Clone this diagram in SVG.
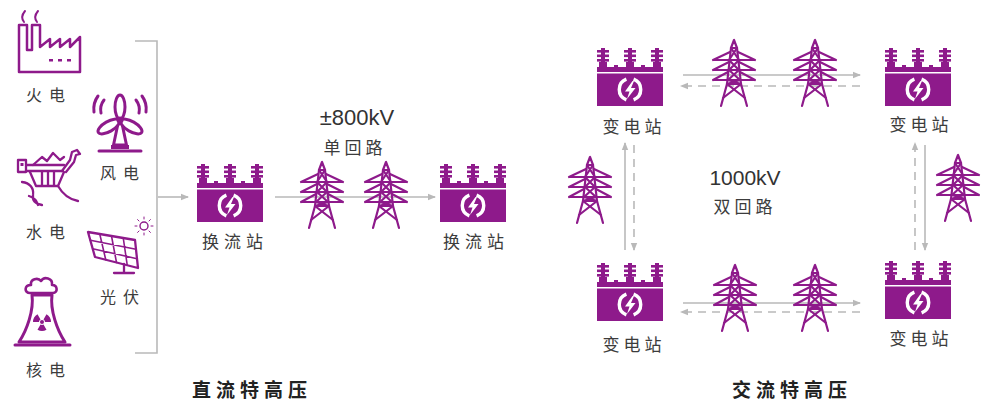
<svg xmlns="http://www.w3.org/2000/svg" width="982" height="406" viewBox="0 0 982 406">
  <style>
    .p { fill: #8e1a8b; }
    .ps { fill: none; stroke: #8e1a8b; stroke-linejoin: round; stroke-linecap: round; }
    .w { fill: none; stroke: #ffffff; stroke-width: 3.4; stroke-linecap: butt; }
    .ln { fill: none; stroke: #b9b9b9; stroke-width: 1.6; }
    .dash { stroke-dasharray: 8 6; }
    .lbl { font-family: "Noto Sans CJK SC", sans-serif; font-size: 16px; fill: #3c3c3c; text-anchor: middle; }
    .cap { font-family: "Noto Sans CJK SC", sans-serif; font-size: 19px; font-weight: bold; fill: #222222; text-anchor: middle; letter-spacing: 5px; }
    .kv { font-family: "Liberation Sans", Arial, sans-serif; font-size: 21px; fill: #333333; text-anchor: middle; }
  </style>
  <defs>
    <marker id="ah" viewBox="0 0 8 8" markerWidth="8" markerHeight="8" refX="7" refY="4" orient="auto" markerUnits="userSpaceOnUse">
      <path d="M0 0.8 L8 4 L0 7.2 Z" fill="#b9b9b9"/>
    </marker>
    <!-- substation / converter station: 66 x 58 -->
    <g id="station">
      <g class="p">
        <rect x="4" y="0" width="4" height="18"/>
        <rect x="0" y="2" width="12" height="2.6"/>
        <rect x="0" y="6.5" width="12" height="2.6"/>
        <rect x="0" y="11" width="12" height="2.6"/>
        <rect x="2" y="14" width="8" height="10"/>
        <rect x="31" y="0" width="4" height="18"/>
        <rect x="27" y="2" width="12" height="2.6"/>
        <rect x="27" y="6.5" width="12" height="2.6"/>
        <rect x="27" y="11" width="12" height="2.6"/>
        <rect x="29" y="14" width="8" height="10"/>
        <rect x="58" y="0" width="4" height="18"/>
        <rect x="54" y="2" width="12" height="2.6"/>
        <rect x="54" y="6.5" width="12" height="2.6"/>
        <rect x="54" y="11" width="12" height="2.6"/>
        <rect x="56" y="14" width="8" height="10"/>
        <rect x="0" y="19" width="66" height="5"/>
        <rect x="17" y="17" width="4" height="3"/>
        <rect x="44" y="17" width="4" height="3"/>
        <rect x="0" y="25.5" width="66" height="32.5"/>
      </g>
      <path class="w" d="M29.4 31.2 A11 11 0 0 0 29.4 51.8 M36.6 31.2 A11 11 0 0 1 36.6 51.8"/>
      <polygon points="35.5,33 28,43.5 32.5,43.5 30,51 38.5,40 34,40 37,33" fill="#ffffff"/>
    </g>
    <!-- lattice transmission tower: centred on x=0, 66 high -->
    <g id="tower" class="ps" stroke-width="2.2">
      <path d="M0 0 L-3 8 L3 8 Z"/>
      <path d="M-3 8 L-7 44 L-13 66 M3 8 L7 44 L13 66"/>
      <path d="M-21 20 L-4 12 M21 20 L4 12 M-21 20 H21"/>
      <path d="M-21 30 L-5 22 M21 30 L5 22 M-21 30 H21"/>
      <path d="M-21 40 L-6 32 M21 40 L6 32 M-21 40 H21"/>
      <path d="M-3 8 L5 20 L-5 30 L6 40 L-7 44 M3 8 L-5 20 L5 30 L-6 40 L7 44"/>
      <path d="M-7 44 H7 M-7 44 L11 58 M7 44 L-11 58"/>
    </g>
  </defs>

  <!-- connectors -->
  <g id="connectors">
    <path class="ln" d="M135 41 H157 V353 H135"/>
    <path class="ln" d="M158 197 H188" marker-end="url(#ah)"/>
    <path class="ln" d="M275 197 H435" marker-end="url(#ah)"/>
    <path class="ln" d="M683 75 H860" marker-end="url(#ah)"/>
    <path class="ln dash" d="M860 86 H681" marker-end="url(#ah)"/>
    <path class="ln" d="M683 303 H860" marker-end="url(#ah)"/>
    <path class="ln dash" d="M860 312 H681" marker-end="url(#ah)"/>
    <path class="ln" d="M625 250 V143" marker-end="url(#ah)"/>
    <path class="ln dash" d="M634 145 V250" marker-end="url(#ah)"/>
    <path class="ln dash" d="M915 250 V143" marker-end="url(#ah)"/>
    <path class="ln" d="M925 145 V250" marker-end="url(#ah)"/>
  </g>

  <!-- generation sources -->
  <g id="thermal">
    <path class="ps" stroke-width="2.5" d="M19 72 V25 H27 V50 H32 V25 H40 V47 L50 39 V47 L60 39 V47 L70 39 V47 L80 37 V72 Z"/>
    <path class="ps" stroke-width="2" d="M24 22 Q20 17 25 11 M37 22 Q33 17 38 11"/>
    <rect class="p" x="49" y="59" width="4" height="2.5"/>
    <rect class="p" x="58" y="59" width="4" height="2.5"/>
    <rect class="p" x="67" y="59" width="4" height="2.5"/>
    <text class="lbl" x="49" y="101" style="letter-spacing:7px">火电</text>
  </g>
  <g id="wind">
    <path class="ps" stroke-width="3" d="M104 100 A16 16 0 0 0 101 113 M98 96 A22 22 0 0 0 94 112 M136 100 A16 16 0 0 1 139 113 M142 96 A22 22 0 0 1 146 112"/>
    <ellipse class="ps" stroke-width="3" cx="120" cy="107" rx="12" ry="5" transform="rotate(-90 120 107)"/>
    <ellipse class="ps" stroke-width="3" cx="108.7" cy="126.5" rx="12" ry="5" transform="rotate(150 108.7 126.5)"/>
    <ellipse class="ps" stroke-width="3" cx="131.3" cy="126.5" rx="12" ry="5" transform="rotate(30 131.3 126.5)"/>
    <circle class="p" cx="120" cy="120" r="3.5"/>
    <path class="ps" stroke-width="3" d="M117.5 126 L113.5 145 H126.5 L122.5 126"/>
    <rect class="p" x="111" y="145" width="18" height="4"/>
    <path class="ps" stroke-width="3" d="M99 151 H141"/>
    <text class="lbl" x="123" y="179" style="letter-spacing:7px">风电</text>
  </g>
  <g id="hydro">
    <rect class="ps" stroke-width="2.3" x="18" y="160" width="8" height="12"/>
    <rect class="p" x="20.5" y="163" width="3" height="3"/>
    <path class="ps" stroke-width="2.3" d="M26 165 H64 M26 171 H63"/>
    <path class="ps" stroke-width="2.3" d="M33 165 L42 157 L47 161 L53 153 L60 160 L64 157"/>
    <path class="ps" stroke-width="2.3" d="M62 171 L70 160 L72 152 L77 150 L80 154 L76 155 L74 162 L66 172"/>
    <path class="ps" stroke-width="2.3" d="M30 172 L36 186 H58 L64 172 M42 172 V186 M48 172 V186 M54 172 V186"/>
    <path class="ps" stroke-width="2.3" d="M22 182 C30 183 34 188 33 195 C32 201 36 204 42 205 M29 196 Q36 198 38 205 M58 186 C62 193 67 199 78 201"/>
    <text class="lbl" x="49" y="238" style="letter-spacing:7px">水电</text>
  </g>
  <g id="solar">
    <polygon class="ps" stroke-width="2.3" points="88,232 135,240 138,268 95,257"/>
    <path class="ps" stroke-width="1.6" d="M99.75 234 L105.75 259.75 M111.5 236 L116.5 262.5 M123.25 238 L127.25 265.25 M90.33 240.33 L136 249.33 M92.67 248.67 L137 258.67"/>
    <path class="ps" stroke-width="2.3" d="M124 264 V272 M114 273 H134"/>
    <circle class="ps" stroke-width="1.4" cx="144" cy="226" r="4"/>
    <path class="ps" stroke-width="1" d="M144 219 V217 M144 233 V235 M137 226 H135 M151 226 H153 M139 221 L137.6 219.6 M149 221 L150.4 219.6 M139 231 L137.6 232.4 M149 231 L150.4 232.4"/>
    <text class="lbl" x="123" y="303" style="letter-spacing:7px">光伏</text>
  </g>
  <g id="nuclear">
    <path class="ps" stroke-width="2.6" d="M30 293 C24 293 24 285 31 285 C30 279 38 277 41 281 C44 276 53 278 52 285 C58 285 58 293 53 293 Z"/>
    <path class="ps" stroke-width="3" d="M32 295 H52 C50 310 57 330 65 342 H19 C27 330 34 310 32 295 Z"/>
    <path class="ps" stroke-width="3" d="M15 345 H70"/>
    <path class="p" d="M33 322 A9 9 0 0 1 37.5 314.21 L40.5 319.4 A3 3 0 0 0 39 322 Z"/>
    <path class="p" d="M46.5 314.21 A9 9 0 0 1 51 322 L45 322 A3 3 0 0 0 43.5 319.4 Z"/>
    <path class="p" d="M46.5 329.79 A9 9 0 0 1 37.5 329.79 L40.5 324.6 A3 3 0 0 0 43.5 324.6 Z"/>
    <circle class="p" cx="42" cy="322" r="2"/>
    <text class="lbl" x="49" y="376" style="letter-spacing:7px">核电</text>
  </g>

  <!-- DC line -->
  <g id="converter-1">
    <use href="#station" x="197" y="164"/>
    <text class="lbl" x="235" y="248" style="font-size:17px;letter-spacing:5px">换流站</text>
  </g>
  <g id="dc-tower-1"><use href="#tower" x="322" y="162"/></g>
  <g id="dc-tower-2"><use href="#tower" x="386" y="162"/></g>
  <g id="converter-2">
    <use href="#station" x="440" y="164"/>
    <text class="lbl" x="476" y="248" style="font-size:17px;letter-spacing:5px">换流站</text>
  </g>
  <g id="dc-label">
    <text class="kv" x="357" y="125" style="font-size:22px">±800kV</text>
    <text class="lbl" x="355" y="154" style="font-size:17px;letter-spacing:4px">单回路</text>
  </g>

  <!-- AC ring -->
  <g id="substation-tl">
    <use href="#station" x="597" y="48"/>
    <text class="lbl" x="634" y="133" style="font-size:17px;letter-spacing:4px">变电站</text>
  </g>
  <g id="substation-tr">
    <use href="#station" x="885" y="48"/>
    <text class="lbl" x="921" y="131" style="font-size:17px;letter-spacing:4px">变电站</text>
  </g>
  <g id="substation-bl">
    <use href="#station" x="597" y="263"/>
    <text class="lbl" x="634" y="351" style="font-size:17px;letter-spacing:4px">变电站</text>
  </g>
  <g id="substation-br">
    <use href="#station" x="885" y="261"/>
    <text class="lbl" x="921" y="345" style="font-size:17px;letter-spacing:4px">变电站</text>
  </g>
  <g id="ac-tower-1"><use href="#tower" x="734" y="40"/></g>
  <g id="ac-tower-2"><use href="#tower" x="815" y="40"/></g>
  <g id="ac-tower-3"><use href="#tower" x="735" y="265"/></g>
  <g id="ac-tower-4"><use href="#tower" x="815" y="265"/></g>
  <g id="ac-tower-5"><use href="#tower" x="590" y="157"/></g>
  <g id="ac-tower-6"><use href="#tower" x="958" y="155"/></g>
  <g id="ac-label">
    <text class="kv" x="745" y="185">1000kV</text>
    <text class="lbl" x="745" y="213" style="font-size:17px;letter-spacing:4px">双回路</text>
  </g>

  <!-- captions -->
  <text class="cap" x="252" y="397">直流特高压</text>
  <text class="cap" x="792" y="397">交流特高压</text>
</svg>
